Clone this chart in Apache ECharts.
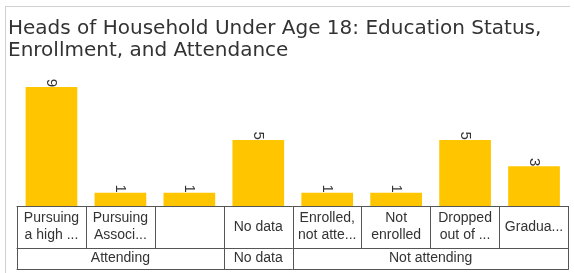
<!DOCTYPE html>
<html>
<head>
<meta charset="utf-8">
<script src="https://cdn.jsdelivr.net/npm/echarts@6/dist/echarts.min.js"></script>
<style>
  html, body { margin: 0; padding: 0; background: #fff; }
  #frame { position: absolute; left: 5px; top: 6px; width: 564px; height: 267px; border-left: 1px solid #d0d0d0; border-top: 1px solid #d0d0d0; }
  #chart { position: absolute; left: 0; top: 0; width: 574px; height: 273px; }
</style>
</head>
<body>
<div id="frame"></div>
<div id="chart"></div>
<script>
// 类别（第一行）
const categories = [
  'Pursuing\na high ...', 'Pursuing\nAssoci...', '', 'No data',
  'Enrolled,\nnot atte...', 'Not\nenrolled', 'Dropped\nout of ...', 'Gradua...'
];
// 数值
const values = [9, 1, 1, 5, 1, 1, 5, 3];
// 分组（第二行）：名字与所占类别数
const groupNames = ['Attending', 'No data', 'Not attending'];
const groupSpans = [3, 1, 4];

// 第二行用半格刻度：17 个点，0..16
const halfPoints = [];
for (let i = 0; i <= categories.length * 2; i++) halfPoints.push('p' + i);
const groupTickAt = [0];
const groupLabelAt = {};
let pos = 0;
groupSpans.forEach((span, i) => {
  groupLabelAt[pos * 2 + span] = groupNames[i];
  pos += span;
  groupTickAt.push(pos * 2);
});

const lineColor = '#555';
const chart = echarts.init(document.getElementById('chart'));
const option = {
  animation: false,
  title: {
    text: 'Heads of Household Under Age 18: Education Status,\nEnrollment, and Attendance',
    left: 8,
    top: 18,
    padding: 0,
    textStyle: {
      fontFamily: 'DejaVu Sans, sans-serif',
      fontWeight: 'normal',
      fontSize: 20,
      lineHeight: 22,
      color: '#333'
    }
  },
  grid: { left: 17, right: 5.5, top: 87, bottom: 67 },
  xAxis: [{
    type: 'category',
    data: categories,
    position: 'bottom',
    axisLine: { lineStyle: { color: lineColor, width: 1 } },
    axisTick: { show: true, length: 42, lineStyle: { color: lineColor } },
    axisLabel: {
      interval: 0,
      margin: 21,
      verticalAlign: 'middle',
      fontFamily: 'Liberation Sans, Arial, sans-serif',
      fontSize: 14,
      lineHeight: 17,
      color: '#333'
    }
  }, {
    type: 'category',
    data: halfPoints,
    boundaryGap: false,
    position: 'bottom',
    offset: 42,
    axisLine: { lineStyle: { color: lineColor, width: 1 } },
    axisTick: {
      show: true,
      length: 21,
      interval: (index) => groupTickAt.includes(index),
      lineStyle: { color: lineColor }
    },
    axisLabel: {
      interval: (index) => groupLabelAt[index] !== undefined,
      formatter: (value, index) => groupLabelAt[index] || '',
      margin: 10.5,
      verticalAlign: 'middle',
      fontFamily: 'Liberation Sans, Arial, sans-serif',
      fontSize: 14,
      color: '#333'
    }
  }, {
    type: 'category',
    data: categories,
    position: 'bottom',
    offset: 63,
    axisLine: { lineStyle: { color: lineColor, width: 1 } },
    axisTick: { show: false },
    axisLabel: { show: false }
  }],
  yAxis: {
    type: 'value',
    min: 0,
    max: 9,
    show: false
  },
  series: [{
    type: 'bar',
    data: values,
    xAxisIndex: 0,
    barCategoryGap: '25%',
    itemStyle: { color: '#FFC600' },
    label: {
      show: true,
      position: 'top',
      distance: 0,
      rotate: -90,
      align: 'right',
      verticalAlign: 'middle',
      fontFamily: 'Liberation Sans, Arial, sans-serif',
      fontSize: 15,
      color: '#333'
    }
  }]
};
chart.setOption(option);
</script>
</body>
</html>
